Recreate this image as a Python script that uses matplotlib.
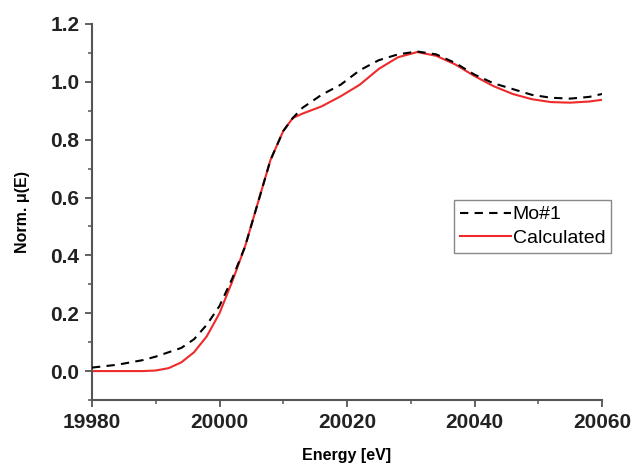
import matplotlib
matplotlib.use("Agg")
import matplotlib.pyplot as plt
from matplotlib.ticker import MultipleLocator, FormatStrFormatter

plt.rcParams['font.family'] = ['Liberation Sans', 'DejaVu Sans']

energy = [19980, 19984, 19988, 19990, 19992, 19994, 19996, 19998, 20000, 20002,
          20004, 20006, 20008, 20010, 20011.5, 20013, 20016, 20019, 20022, 20025,
          20028, 20031, 20034, 20037, 20040, 20043, 20046, 20049, 20052, 20055,
          20058, 20060]
mo1 = [0.012, 0.022, 0.038, 0.05, 0.065, 0.08, 0.11, 0.16, 0.225, 0.32,
       0.43, 0.58, 0.73, 0.83, 0.875, 0.91, 0.955, 0.99, 1.04, 1.075,
       1.095, 1.105, 1.095, 1.065, 1.025, 0.995, 0.975, 0.955, 0.945, 0.942,
       0.948, 0.958]
calculated = [0.0, 0.0, 0.0, 0.002, 0.01, 0.03, 0.065, 0.12, 0.2, 0.31,
              0.43, 0.58, 0.73, 0.83, 0.875, 0.89, 0.915, 0.95, 0.99, 1.045,
              1.085, 1.103, 1.09, 1.06, 1.02, 0.985, 0.958, 0.94, 0.93, 0.928,
              0.932, 0.938]

fig = plt.figure(figsize=(6.34, 4.68), dpi=100)
ax = fig.add_axes([92/634, 1-400/468, 510/634, 376/468])

ax.plot(energy, calculated, color='#ee2a2a', lw=1.5, label='Calculated', zorder=2)
ax.plot(energy, mo1, color='black', lw=1.5, ls=(0, (4, 3)), label='Mo#1', zorder=3)

ax.set_xlim(19980, 20060)
ax.set_ylim(-0.1, 1.2)
ax.xaxis.set_major_locator(MultipleLocator(20))
ax.xaxis.set_minor_locator(MultipleLocator(10))
ax.yaxis.set_major_locator(MultipleLocator(0.2))
ax.yaxis.set_minor_locator(MultipleLocator(0.1))
ax.yaxis.set_major_formatter(FormatStrFormatter('%.1f'))

for s in ['top', 'right']:
    ax.spines[s].set_visible(False)
for s in ['left', 'bottom']:
    ax.spines[s].set_color('#555555')
    ax.spines[s].set_linewidth(1.5)

ax.tick_params(which='major', direction='out', length=5, width=1.3, color='#555555',
               labelsize=15, pad=4)
ax.tick_params(which='minor', direction='out', length=3, width=1.1, color='#555555')
for lab in ax.get_xticklabels() + ax.get_yticklabels():
    lab.set_fontweight('bold')
    lab.set_color('#222222')

ax.set_xlabel('Energy [eV]', fontsize=11.5, fontweight='bold', labelpad=12)
ax.set_ylabel('Norm. μ(E)', fontsize=11.5, fontweight='bold', labelpad=15)

handles, labels = ax.get_legend_handles_labels()
leg = ax.legend(handles[::-1], labels[::-1], loc='upper right',
                bbox_to_anchor=(611/634, 1-200/468), bbox_transform=fig.transFigure,
                borderaxespad=0, fontsize=14, handlelength=2.6, handletextpad=0.1,
                labelspacing=0.3, borderpad=0.3, fancybox=False, framealpha=1)
leg.get_frame().set_edgecolor('#888888')
leg.get_frame().set_linewidth(1.0)

fig.savefig('out.png', dpi=100)
